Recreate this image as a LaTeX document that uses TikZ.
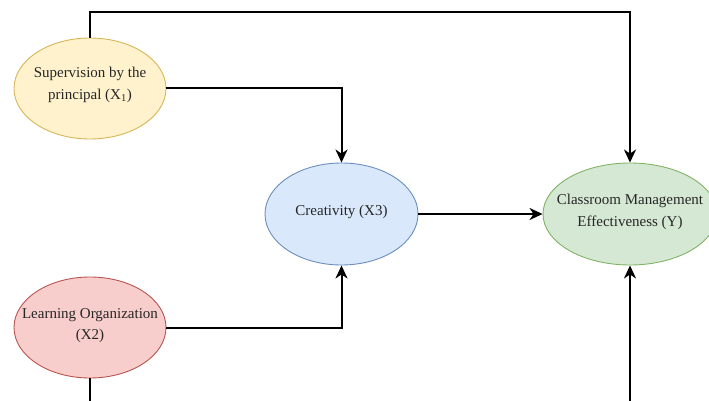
\documentclass[tikz,border=0pt]{standalone}
\usepackage{fontspec}
\setmainfont{Liberation Serif}
\usetikzlibrary{arrows.meta,shapes.geometric}
\definecolor{yfill}{HTML}{FFF2CC}\definecolor{ydraw}{HTML}{D6B656}
\definecolor{bfill}{HTML}{DAE8FC}\definecolor{bdraw}{HTML}{6C8EBF}
\definecolor{rfill}{HTML}{F8CECC}\definecolor{rdraw}{HTML}{B85450}
\definecolor{gfill}{HTML}{D5E8D4}\definecolor{gdraw}{HTML}{82B366}
\definecolor{txt}{HTML}{262626}
\tikzset{
  var/.style={ellipse, inner sep=0pt, line width=0.9pt},
  vartext/.style={align=center, text=txt, inner sep=0pt, yshift=2pt,
    font=\fontsize{15}{21.5}\selectfont},
  conn/.style={line width=2pt, draw=black, -{Stealth[length=13pt,width=12pt,inset=4pt]}}
}
\begin{document}
\begin{tikzpicture}[x=1pt,y=-1pt]
\clip (0,0) rectangle (709,401);
\node[var, fill=yfill, draw=ydraw, minimum width=152pt, minimum height=101pt,
  label={[vartext,yshift=1.5pt]center:Supervision by the\\principal (X\textsubscript{1})}] (x1) at (90,88.5) {};
\node[var, fill=bfill, draw=bdraw, minimum width=153pt, minimum height=102pt,
  label={[vartext]center:Creativity (X3)}] (x3) at (341.5,214) {};
\node[var, fill=rfill, draw=rdraw, minimum width=152pt, minimum height=101pt,
  label={[vartext]center:Learning Organization\\(X2)}] (x2) at (90,327.5) {};
\node[var, fill=gfill, draw=gdraw, minimum width=174pt, minimum height=102pt,
  label={[vartext]center:Classroom Management\\Effectiveness (Y)}] (y) at (630,214) {};
\draw[conn] (x1.north) |- (360,12) -| (y.north);
\draw[conn] (x1.east) -| (x3.north);
\draw[conn] (x2.east) -| (x3.south);
\draw[conn] (x3.east) -- (y.west);
\draw[conn] (x2.south) |- (360,430) -| (y.south);
\end{tikzpicture}
\end{document}
